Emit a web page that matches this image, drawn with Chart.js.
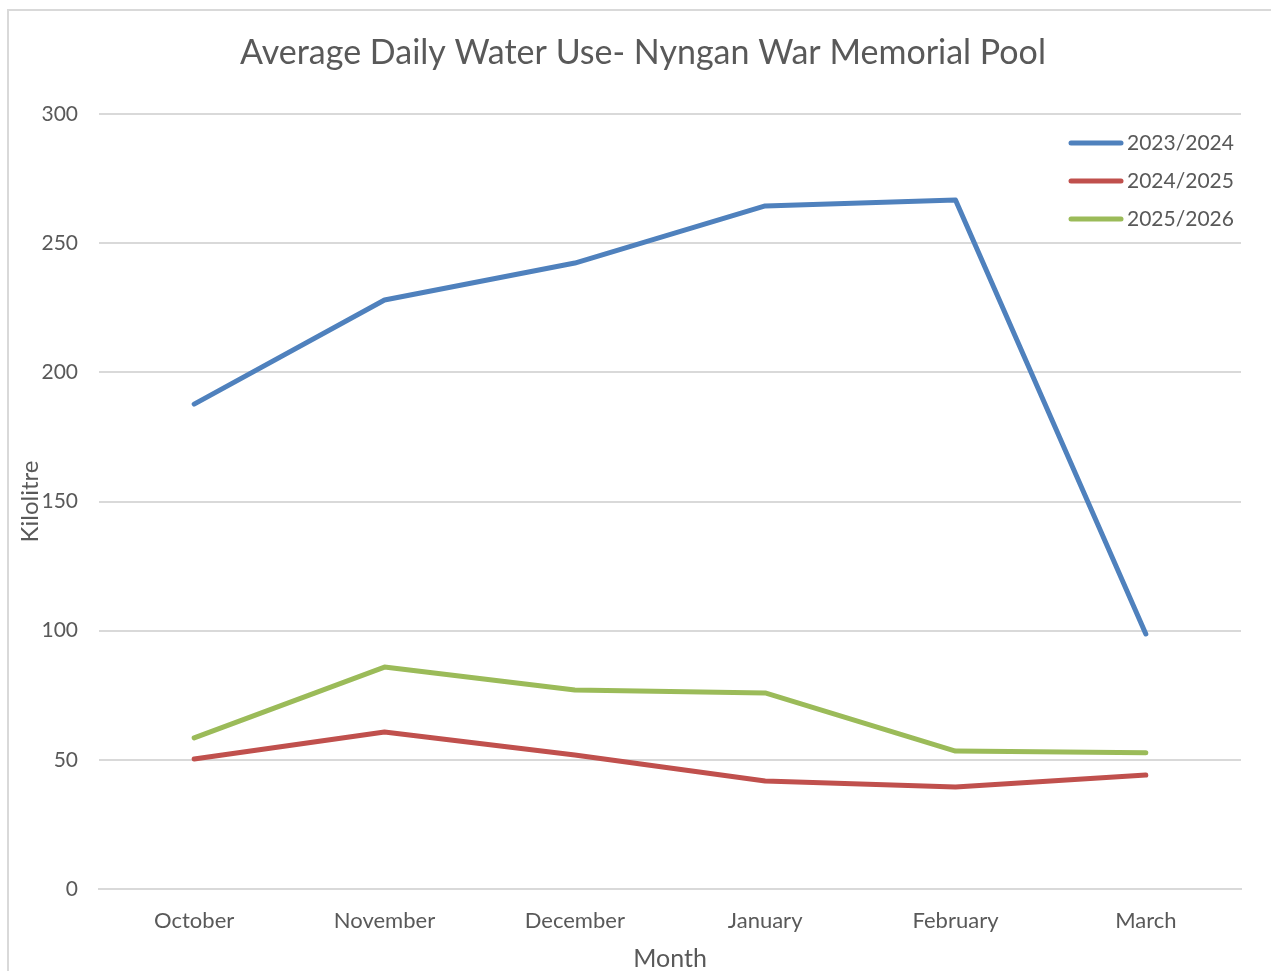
<!DOCTYPE html>
<html>
<head>
<meta charset="utf-8">
<script src="https://cdn.jsdelivr.net/npm/chart.js@4"></script>
<style>
  body { margin: 0; background: #fff; overflow: hidden; }
  #wrap { position: relative; width: 1271px; height: 971px; }
  #frame { position: absolute; left: 7px; top: 9px; width: 1400px; height: 1100px;
           border-left: 2px solid #d9d9d9; border-top: 2px solid #d9d9d9; }
  #chart { position: absolute; left: 0; top: 0; }
</style>
</head>
<body>
<div id="wrap">
  <div id="frame"></div>
  <canvas id="chart" width="1271" height="971"></canvas>
</div>
<script>
const months = ["October", "November", "December", "January", "February", "March"];
const season2324 = [187.7, 228, 242.3, 264.4, 266.7, 98.7];
const season2425 = [50.3, 60.8, 51.9, 41.8, 39.5, 44.1];
const season2526 = [58.5, 85.9, 77, 75.9, 53.4, 52.7];
const seasonNames = ["2023/2024", "2024/2025", "2025/2026"];

const FONT = "Lato, 'Liberation Sans', sans-serif";
const GREY = '#595959';

/* title drawn centred on the full (cropped) chart */
const titlePlugin = {
  id: 'fixedTitle',
  afterDraw(chart) {
    const ctx = chart.ctx;
    ctx.save();
    ctx.font = "34px " + FONT;
    ctx.fillStyle = GREY;
    ctx.textAlign = 'center';
    ctx.textBaseline = 'middle';
    ctx.fillText("Average Daily Water Use- Nyngan War Memorial Pool", 643, 53);
    ctx.restore();
  }
};

/* legend sits inside the plot area, top right */
const legendPlugin = {
  id: 'insideLegend',
  afterDatasetsDraw(chart) {
    const ctx = chart.ctx;
    ctx.save();
    ctx.font = "21px " + FONT;
    ctx.textBaseline = 'middle';
    chart.data.datasets.forEach((ds, i) => {
      const y = 143 + i * 38;
      ctx.strokeStyle = ds.borderColor;
      ctx.lineWidth = 5;
      ctx.lineCap = 'round';
      ctx.beginPath();
      ctx.moveTo(1071, y);
      ctx.lineTo(1121, y);
      ctx.stroke();
      ctx.fillStyle = GREY;
      ctx.fillText(ds.label, 1127, y);
    });
    ctx.restore();
  }
};

const lineStyle = { borderWidth: 5, pointRadius: 0, tension: 0, borderCapStyle: 'round', borderJoinStyle: 'round' };

new Chart(document.getElementById('chart'), {
  type: 'line',
  data: {
    labels: months,
    datasets: [
      { label: seasonNames[0], data: season2324, borderColor: '#4f81bd', ...lineStyle },
      { label: seasonNames[1], data: season2425, borderColor: '#c0504d', ...lineStyle },
      { label: seasonNames[2], data: season2526, borderColor: '#9bbb59', ...lineStyle }
    ]
  },
  options: {
    responsive: false,
    animation: false,
    layout: { padding: { left: 16, right: 30, top: 114, bottom: 0 } },
    plugins: {
      legend: { display: false },
      title: { display: false },
      tooltip: { enabled: false }
    },
    scales: {
      x: {
        offset: true,
        grid: { display: false, drawTicks: false },
        border: { color: '#d9d9d9', width: 2 },
        ticks: { color: GREY, font: { family: FONT, size: 22 }, padding: 19, maxRotation: 0 },
        title: { display: true, text: 'Month', color: GREY, font: { family: FONT, size: 25 }, padding: { top: 0, bottom: -3 } },
        afterFit: (s) => { s.height = 82; }
      },
      y: {
        min: 0, max: 300,
        ticks: { stepSize: 50, color: GREY, font: { family: FONT, size: 21 }, padding: 21 },
        grid: { color: '#d9d9d9', lineWidth: 2, drawTicks: false },
        border: { display: false },
        title: { display: true, text: 'Kilolitre', color: GREY, font: { family: FONT, size: 24 }, padding: 0 },
        afterFit: (s) => { s.width = 83; }
      }
    }
  },
  plugins: [titlePlugin, legendPlugin]
});
</script>
</body>
</html>
